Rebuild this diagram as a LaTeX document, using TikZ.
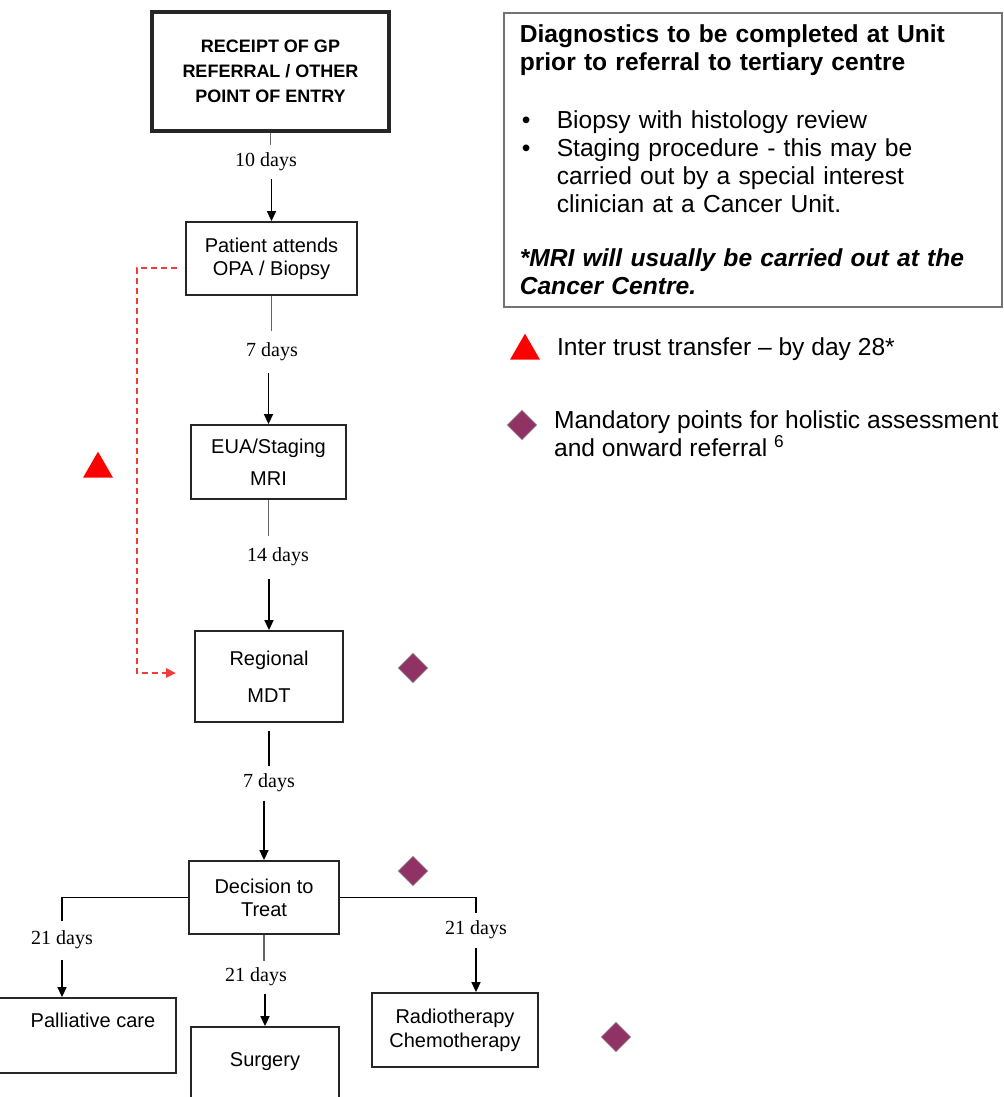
\documentclass[tikz,border=0pt]{standalone}
\usepackage{fontspec}
\setmainfont{Liberation Sans}
\newfontfamily\daysfont{Liberation Serif}
\usetikzlibrary{arrows.meta,shapes.geometric}
\definecolor{holisticpurple}{RGB}{145,50,100}
\definecolor{transferred}{RGB}{240,60,60}

\begin{document}
\begin{tikzpicture}[x=0.5pt,y=-0.5pt,
    flowbox/.style={draw=black!85,line width=0.9pt,align=center,inner sep=0pt,
        font=\fontsize{10}{11.5}\selectfont},
    days/.style={font=\daysfont\fontsize{10}{12}\selectfont,inner xsep=1pt},
    link/.style={draw=black!60,line width=0.9pt},
    branch/.style={draw=black,line width=0.7pt},
    arrow/.style={draw=black,line width=0.75pt,-{Triangle[length=5pt,width=4.5pt]}},
    transferline/.style={draw=transferred,line width=1.3pt,dash pattern=on 3pt off 2pt,
        -{Triangle[length=5pt,width=4.5pt]}},
    holistic/.style={diamond,aspect=1,fill=holisticpurple,draw=gray!70,line width=0.3pt,
        inner sep=0pt,minimum size=15pt},
    transfer/.style={regular polygon,regular polygon sides=3,fill=red,inner sep=0pt,
        minimum size=17.3pt},
    legend/.style={font=\fontsize{12.3}{14}\selectfont,align=left}
    ]
\useasboundingbox (0,0) rectangle (1004,1097);

% pathway boxes
\node[flowbox,line width=2pt,minimum width=118.5pt,minimum height=59.5pt,
    font=\bfseries\fontsize{9}{12.5}\selectfont] (entry) at (270.5,71.5)
    {RECEIPT OF GP\\REFERRAL / OTHER\\POINT OF ENTRY};
\node[flowbox,minimum width=85.5pt,minimum height=36.5pt] (opa) at (271.5,258.5)
    {Patient attends\\OPA / Biopsy};
\node[flowbox,minimum width=77.5pt,minimum height=37pt] (eua) at (268.5,462)
    {EUA/Staging\\[4.5pt]MRI};
\node[flowbox,minimum width=74pt,minimum height=45.5pt] (mdt) at (269,676.5)
    {Regional\\[7pt]MDT};
\node[flowbox,minimum width=75pt,minimum height=36.5pt] (dtt) at (264,897.5)
    {Decision to\\Treat};
\node[flowbox,minimum width=98pt,minimum height=37.5pt] (pall) at (78,1035.5)
    {\hspace*{15pt}Palliative care\\\strut};
\node[flowbox,minimum width=74pt,minimum height=47pt] (surg) at (265,1074)
    {Surgery\\\strut};
\node[flowbox,minimum width=83pt,minimum height=37pt] (rt) at (455,1030)
    {Radiotherapy\\[0.5pt]Chemotherapy};

% waiting times
\node[days,inner ysep=4pt] (d1) at (266,162) {10 days};
\node[days,inner ysep=6pt] (d2) at (272,352) {7 days};
\node[days,inner ysep=6pt] (d3) at (278,557) {14 days};
\node[days,inner ysep=4pt] (d4) at (269,783) {7 days};
\node[days,inner ysep=5pt] (dleft) at (62,940) {21 days};
\node[days,inner ysep=3.5pt] (dmid) at (256,977) {21 days};
\node[days,inner ysep=4pt] (dright) at (476,930) {21 days};

% connectors
\draw[link] (entry.south) -- (entry.south |- d1.north);
\draw[arrow] (d1.south -| opa.north) -- (opa.north);
\draw[link] (opa.south) -- (opa.south |- d2.north);
\draw[arrow] (d2.south -| eua.north) -- (eua.north);
\draw[link] (eua.south) -- (eua.south |- d3.north);
\draw[arrow] (d3.south -| mdt.north) -- (mdt.north);
\draw[branch,shorten <=4pt] (mdt.south) -- (mdt.south |- d4.north);
\draw[arrow] (d4.south -| dtt.north) -- (dtt.north);
\draw[branch] (dtt.west) -| (dleft.north);
\draw[arrow] (dleft.south) -- (dleft.south |- pall.north);
\draw[link] (dtt.south) -- (dtt.south |- dmid.north);
\draw[arrow] (dmid.south -| surg.north) -- (surg.north);
\draw[branch] (dtt.east) -| (dright.north);
\draw[arrow] (dright.south) -- (dright.south |- rt.north);

% inter trust transfer
\coordinate (mdtin) at (176,673);
\draw[transferline,shorten <=4pt] ([yshift=-4.75pt]opa.west) -- ++(-48,0) |- (mdtin);
\node[transfer] (tri) at (98,469) {};

% holistic assessment points
\node[holistic] (hmdt) at (413,668) {};
\node[holistic] (hdtt) at (413,871) {};
\node[holistic] (hrt) at (616,1037) {};

% diagnostics note
\node[draw=black!55,line width=0.8pt,anchor=north west,text width=233pt,inner xsep=8pt,
    minimum width=249pt,minimum height=147pt,legend] (diag) at (503,12)
    {\textbf{Diagnostics to be completed at Unit}\\
     \textbf{prior to referral to tertiary centre}\\[15pt]
     \makebox[18.5pt][l]{\hspace{1pt}\textbullet}Biopsy with histology review\\
     \makebox[18.5pt][l]{\hspace{1pt}\textbullet}Staging procedure - this may be\\
     \hspace*{18.5pt}carried out by a special interest\\
     \hspace*{18.5pt}clinician at a Cancer Unit.\\[13pt]
     \textbf{\textit{*MRI will usually be carried out at the}}\\
     \textbf{\textit{Cancer Centre.}}};

% key
\node[transfer] (legtri) at (525,351) {};
\node[legend,anchor=west] (legtransfer) at (550,349) {Inter trust transfer – by day 28*};
\node[holistic] (leghol) at (522,425) {};
\node[legend,anchor=west] (legholistic) at (547,433.5)
    {Mandatory points for holistic assessment\\and onward referral \textsuperscript{6}};
\end{tikzpicture}
\end{document}
